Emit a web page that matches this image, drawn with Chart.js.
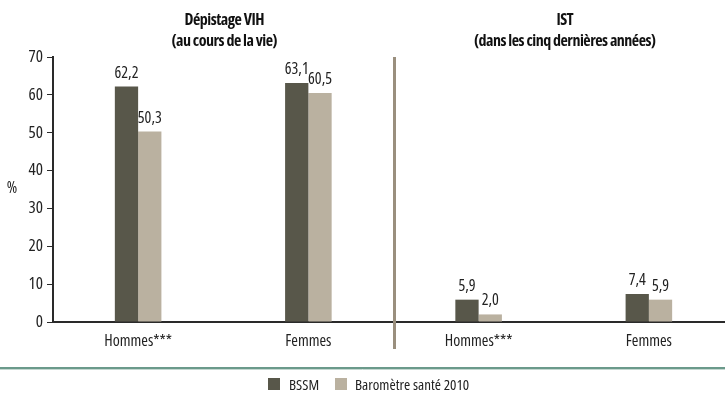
<!DOCTYPE html>
<html>
<head>
<meta charset="utf-8">
<script src="https://cdn.jsdelivr.net/npm/chart.js@4"></script>
<style>
  html, body { margin: 0; padding: 0; background: #fff; overflow: hidden; }
  #wrap { width: 725px; height: 394px; overflow: hidden; }
</style>
</head>
<body>
<div id="wrap"><canvas id="c" width="734" height="394" style="width:734px;height:394px"></canvas></div>
<script>
const categories = ["Hommes***", "Femmes", "Hommes***", "Femmes"];
const bssm = [62.2, 63.1, 5.9, 7.4];
const barometre = [50.3, 60.5, 2.0, 5.9];
const seriesNames = ["BSSM", "Baromètre santé 2010"];
const panelTitles = [
  ["Dépistage VIH", "(au cours de la vie)"],
  ["IST", "(dans les cinq dernières années)"],
];
const yTicks = [0, 10, 20, 30, 40, 50, 60, 70];

const FAMILY = '"Open Sans", sans-serif';
// stretch keyword rides along in the weight slot so Chart.js passes it into ctx.font
const NARROW = "normal ultra-condensed";
const dark = "#58574a";
const light = "#bab1a0";

function font(size, weight) {
  return (weight || "normal") + " ultra-condensed " + size + "px " + FAMILY;
}

const extras = {
  id: "extras",
  afterDatasetsDraw(chart) {
    const ctx = chart.ctx;
    const area = chart.chartArea;
    const x = chart.scales.x;

    // value labels
    ctx.save();
    ctx.fillStyle = "#222";
    ctx.font = font(16);
    ctx.textAlign = "center";
    ctx.textBaseline = "alphabetic";
    chart.data.datasets.forEach((ds, i) => {
      chart.getDatasetMeta(i).data.forEach((bar, j) => {
        ctx.fillText(ds.data[j].toFixed(1).replace(".", ","), bar.x, bar.y - 9);
      });
    });

    // divider between panels
    const mid = (x.getPixelForValue(1) + x.getPixelForValue(2)) / 2 + 1;
    ctx.strokeStyle = "#9a8f7e";
    ctx.lineWidth = 3;
    ctx.beginPath();
    ctx.moveTo(mid, area.top);
    ctx.lineTo(mid, 349);
    ctx.stroke();

    // panel titles
    ctx.fillStyle = "#111";
    ctx.font = font(16, "bold");
    ctx.letterSpacing = "-0.5px";
    const centers = [(54 + mid) / 2, (mid + 735) / 2];
    panelTitles.forEach((t, i) => {
      ctx.fillText(t[0], centers[i], 25);
      ctx.fillText(t[1], centers[i], 46);
    });
    ctx.letterSpacing = "0px";

    // y axis title
    ctx.font = font(16);
    ctx.fillStyle = "#222";
    ctx.fillText("%", 12, 193);

    // bottom rule
    ctx.strokeStyle = "#6b9a8b";
    ctx.lineWidth = 2;
    ctx.beginPath();
    ctx.moveTo(0, 368);
    ctx.lineTo(725, 368);
    ctx.stroke();
    ctx.strokeStyle = "#c5d8d1";
    ctx.lineWidth = 1;
    ctx.beginPath();
    ctx.moveTo(0, 369.5);
    ctx.lineTo(725, 369.5);
    ctx.stroke();

    // legend
    const items = [
      { label: seriesNames[0], color: dark, box: 268, text: 289 },
      { label: seriesNames[1], color: light, box: 335, text: 355 },
    ];
    ctx.font = font(15);
    ctx.textAlign = "left";
    items.forEach((it) => {
      ctx.fillStyle = it.color;
      ctx.fillRect(it.box, 378, 12, 12);
      ctx.fillStyle = "#222";
      ctx.fillText(it.label, it.text, 390);
    });
    ctx.restore();
  },
};

new Chart(document.getElementById("c"), {
  type: "bar",
  data: {
    labels: categories,
    datasets: [
      {
        label: seriesNames[0],
        data: bssm,
        backgroundColor: dark,
        barPercentage: 1,
        categoryPercentage: 0.2735,
      },
      {
        label: seriesNames[1],
        data: barometre,
        backgroundColor: light,
        barPercentage: 1,
        categoryPercentage: 0.2735,
      },
    ],
  },
  options: {
    responsive: false,
    animation: false,
    events: [],
    layout: { padding: { top: 57, right: 0, left: 0, bottom: 0 } },
    plugins: {
      legend: { display: false },
      tooltip: { enabled: false },
    },
    scales: {
      x: {
        grid: { display: false },
        border: { color: "#2a2a2a", width: 2 },
        ticks: {
          color: "#222",
          font: { family: FAMILY, size: 16, weight: NARROW },
          padding: 2,
          maxRotation: 0,
        },
        afterFit: (scale) => { scale.height = 72; },
      },
      y: {
        min: 0,
        max: 70,
        afterBuildTicks: (scale) => { scale.ticks = yTicks.map((v) => ({ value: v })); },
        grid: { drawOnChartArea: false, drawTicks: true, tickLength: 6, color: "#2a2a2a", lineWidth: 1 },
        border: { color: "#2a2a2a", width: 2 },
        ticks: {
          color: "#222",
          font: { family: FAMILY, size: 17, weight: NARROW },
          padding: 4,
        },
        afterFit: (scale) => { scale.width = 53; },
      },
    },
  },
  plugins: [extras],
});
</script>
</body>
</html>
